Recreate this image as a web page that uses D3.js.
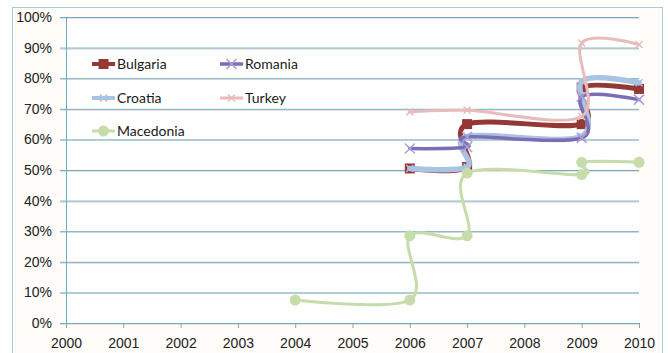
<!DOCTYPE html>
<html>
<head>
<meta charset="utf-8">
<script src="https://cdn.jsdelivr.net/npm/d3@7"></script>
<style>
  html, body { margin: 0; padding: 0; background: #fff; }
  svg { display: block; font-family: Lato, "Open Sans", sans-serif; }
  .tick-label { fill: #222; font-size: 14px; }
  .legend-label { fill: #1a1a1a; font-size: 14px; }
</style>
</head>
<body>
<div id="chart"></div>
<script>
// years on the x axis, percentages on the y axis
const yearTicks = [2000, 2001, 2002, 2003, 2004, 2005, 2006, 2007, 2008, 2009, 2010];
const pctTicks = [0, 10, 20, 30, 40, 50, 60, 70, 80, 90, 100];

// each series is [year, percent]; repeated years make the step jumps
const bulgaria = [[2006, 50.5], [2007, 51], [2007, 65], [2009, 65], [2009, 77], [2010, 76.5]];
const romania = [[2006, 57], [2007, 57.5], [2007, 60.8], [2009, 60.5], [2009, 74], [2010, 73]];
const croatia = [[2006, 50.5], [2007, 51], [2007, 61], [2009, 61], [2009, 79], [2010, 78.5]];
const turkey = [[2006, 69], [2007, 69.5], [2009, 67.5], [2009, 91.5], [2010, 91]];
const macedonia = [[2004, 7.5], [2006, 7.5], [2006, 28.5], [2007, 28.5], [2007, 49], [2009, 48.5], [2009, 52.5], [2010, 52.5]];

const seriesNames = ["Bulgaria", "Romania", "Croatia", "Turkey", "Macedonia"];

const series = [
  { name: "Bulgaria", data: bulgaria, color: "#953735", width: 5, marker: "square" },
  { name: "Croatia", data: croatia, color: "#a9c3e3", width: 5.5, marker: "cross-small" },
  { name: "Romania", data: romania, color: "#7d6db5", width: 3.5, marker: "cross" },
  { name: "Turkey", data: turkey, color: "#e8bcbb", width: 3, marker: "cross-small" },
  { name: "Macedonia", data: macedonia, color: "#c6dcab", width: 3, marker: "circle" },
];

const W = 668, H = 353;
const margin = { top: 17, right: 29, bottom: 30, left: 66 };
const innerW = W - margin.left - margin.right;
const innerH = H - margin.top - margin.bottom;

const svg = d3.select("#chart").append("svg").attr("width", W).attr("height", H);

// outer chart frame
svg.append("rect")
  .attr("x", 12.5).attr("y", 7.5).attr("width", 650).attr("height", 350)
  .attr("fill", "#fffcfa").attr("stroke", "#a9cbd8").attr("stroke-width", 1);
svg.append("rect")
  .attr("x", margin.left).attr("y", margin.top).attr("width", innerW).attr("height", innerH)
  .attr("fill", "#fff");

const g = svg.append("g").attr("transform", `translate(${margin.left},${margin.top})`);

const x = d3.scaleLinear().domain([2000, 2010]).range([0, innerW]);
const y = d3.scaleLinear().domain([0, 100]).range([innerH, 0]);

// pink shadow under grid lines (scan look)
g.append("g")
  .selectAll("line")
  .data(pctTicks)
  .join("line")
  .attr("x1", -6).attr("x2", innerW)
  .attr("y1", (d) => Math.round(y(d)) + 1.5).attr("y2", (d) => Math.round(y(d)) + 1.5)
  .attr("stroke", "#f4dcd6").attr("stroke-width", 1);

// grid + y axis
g.append("g")
  .attr("class", "grid")
  .call(d3.axisLeft(y).tickValues(pctTicks).tickSize(-innerW).tickFormat(() => ""))
  .call((s) => s.select(".domain").remove())
  .selectAll(".tick line")
  .attr("stroke", "#6aaec6");

g.append("g")
  .call(d3.axisLeft(y).tickValues(pctTicks).tickSize(6).tickFormat((d) => d + "%"))
  .call((s) => s.select(".domain").attr("stroke", "#6aaec6"))
  .call((s) => s.selectAll(".tick line").attr("stroke", "#6aaec6"))
  .selectAll("text")
  .attr("class", "tick-label")
  .attr("x", -14)
  .attr("font-size", null)
  .attr("font-family", null);

g.append("g")
  .attr("transform", `translate(0,${innerH})`)
  .call(d3.axisBottom(x).tickValues(yearTicks).tickSize(5).tickFormat(d3.format("d")))
  .call((s) => s.select(".domain").attr("stroke", "#6aaec6"))
  .call((s) => s.selectAll(".tick line").attr("stroke", "#6aaec6"))
  .selectAll("text")
  .attr("class", "tick-label")
  .attr("y", 15)
  .attr("font-size", null)
  .attr("font-family", null);

const line = d3.line()
  .x((d) => x(d[0]))
  .y((d) => y(d[1]))
  .curve(d3.curveCardinal.tension(0));

function drawMarker(sel, type, color, cx, cy) {
  if (type === "square") {
    sel.append("rect")
      .attr("x", cx - 5).attr("y", cy - 5).attr("width", 10).attr("height", 10)
      .attr("fill", color);
  } else if (type === "circle") {
    sel.append("circle").attr("cx", cx).attr("cy", cy).attr("r", 5.5).attr("fill", color);
  } else {
    const r = type === "cross" ? 5 : 3.5;
    sel.append("path")
      .attr("d", `M${cx - r},${cy - r}L${cx + r},${cy + r}M${cx - r},${cy + r}L${cx + r},${cy - r}`)
      .attr("stroke", type === "cross" ? "#a99fd6" : color)
      .attr("stroke-width", 1.5)
      .attr("fill", "none");
  }
}

series.forEach((s) => {
  const sg = g.append("g");
  sg.append("path")
    .attr("d", line(s.data))
    .attr("fill", "none")
    .attr("stroke", s.color)
    .attr("stroke-width", s.width)
    .attr("stroke-linejoin", "round")
    .attr("stroke-linecap", "round");
  s.data.forEach((d) => drawMarker(sg, s.marker, s.color, x(d[0]), y(d[1])));
});

// legend inside plot, two columns
const legendPos = {
  Bulgaria: [26, 47], Romania: [154, 47],
  Croatia: [26, 81], Turkey: [154, 81],
  Macedonia: [26, 114],
};
const leg = g.append("g");
seriesNames.forEach((name) => {
  const s = series.find((d) => d.name === name);
  const [lx, ly] = legendPos[name];
  const lg = leg.append("g").attr("transform", `translate(${lx},${ly})`);
  lg.append("line")
    .attr("x1", 0).attr("x2", 23).attr("y1", 0).attr("y2", 0)
    .attr("stroke", s.color).attr("stroke-width", Math.min(s.width, 4));
  drawMarker(lg, s.marker, s.color, 11.5, 0);
  lg.append("text")
    .attr("class", "legend-label")
    .attr("x", 25).attr("y", 0).attr("dy", "0.35em")
    .text(name);
});
</script>
</body>
</html>
